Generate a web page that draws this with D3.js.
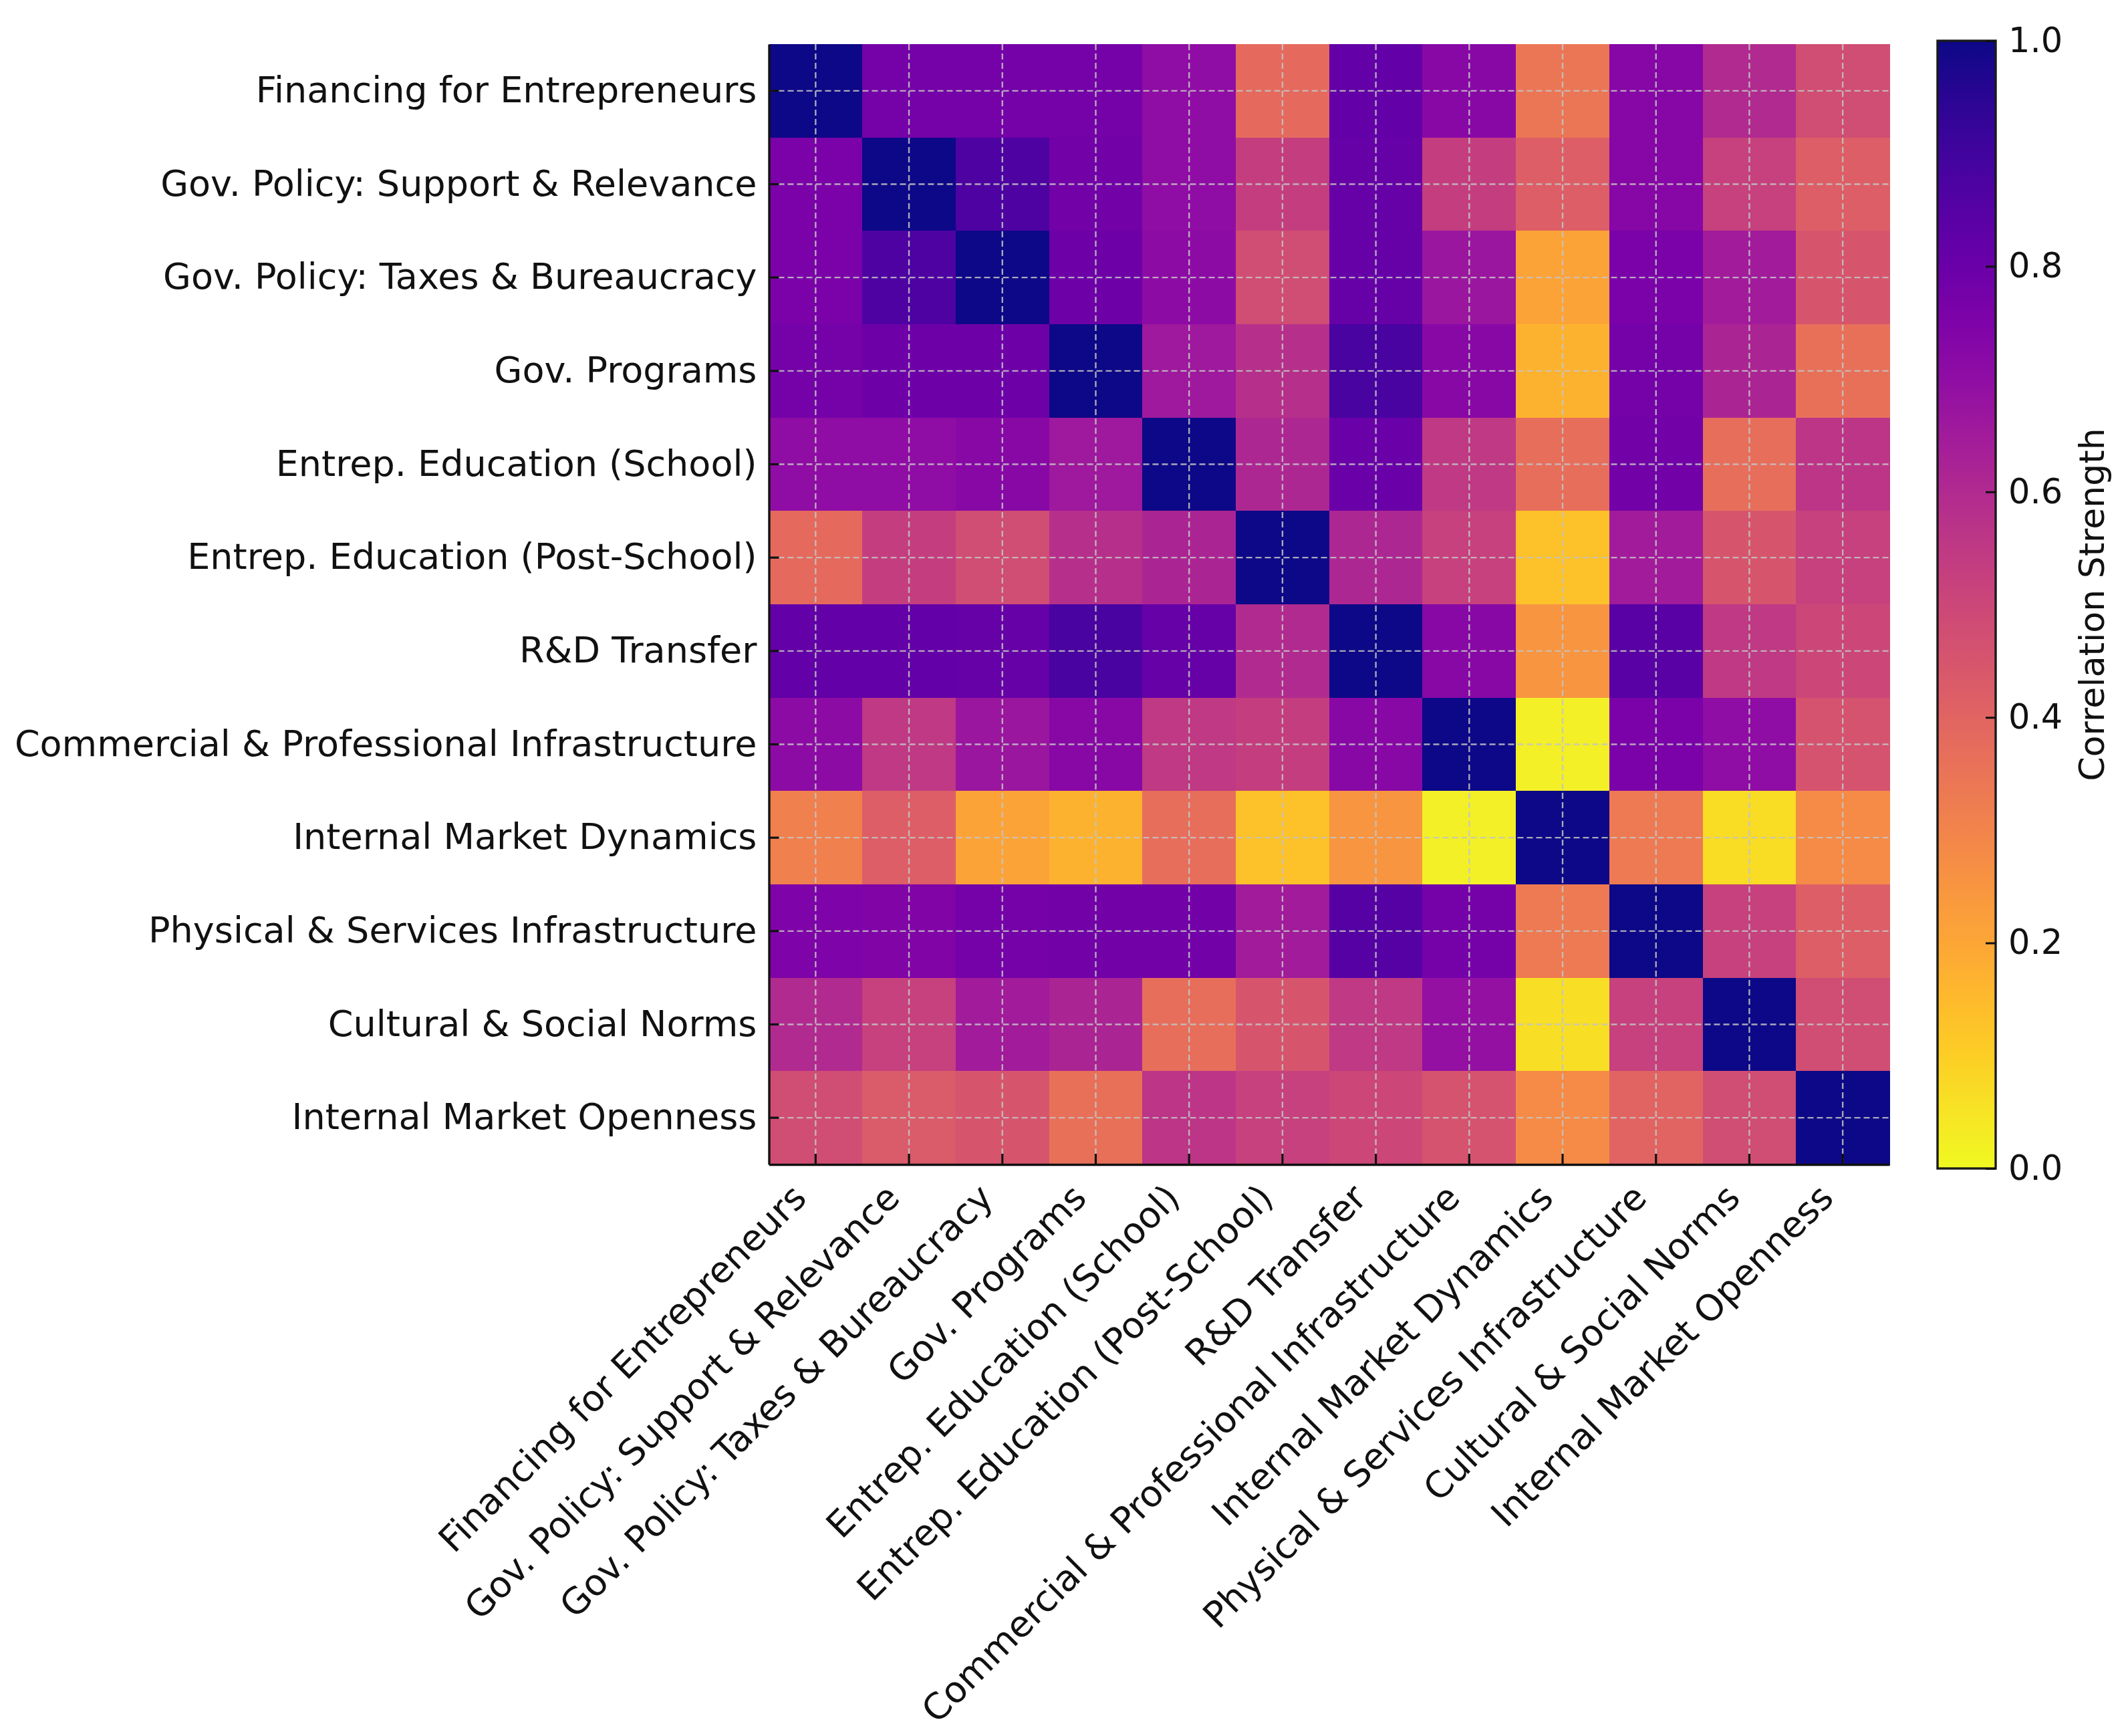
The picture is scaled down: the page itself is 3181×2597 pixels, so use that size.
<!DOCTYPE html>
<html lang="en">
<head>
    <meta charset="UTF-8">
    <script src="https://d3js.org/d3.v7.min.js"></script>
    <title>Correlation Heatmap</title>
    <style>
        body {
            margin: 0;
            background-color: #ffffff;
            font-family: "DejaVu Sans", sans-serif;
        }
    </style>
</head>
<body>
    <svg id="chart" width="3181" height="2597"></svg>

    <script>
        // Factor names (row / column order)
        const factors = [
            "Financing for Entrepreneurs",
            "Gov. Policy: Support & Relevance",
            "Gov. Policy: Taxes & Bureaucracy",
            "Gov. Programs",
            "Entrep. Education (School)",
            "Entrep. Education (Post-School)",
            "R&D Transfer",
            "Commercial & Professional Infrastructure",
            "Internal Market Dynamics",
            "Physical & Services Infrastructure",
            "Cultural & Social Norms",
            "Internal Market Openness"
        ];

        // Correlation values, one array per row
        const rowFinancing      = [1.00, 0.77, 0.77, 0.77, 0.70, 0.38, 0.82, 0.72, 0.34, 0.73, 0.60, 0.48];
        const rowPolicySupport  = [0.76, 1.00, 0.87, 0.78, 0.70, 0.53, 0.81, 0.53, 0.42, 0.73, 0.52, 0.42];
        const rowPolicyTaxes    = [0.76, 0.87, 1.00, 0.79, 0.71, 0.48, 0.81, 0.67, 0.21, 0.76, 0.65, 0.45];
        const rowGovPrograms    = [0.77, 0.79, 0.79, 1.00, 0.66, 0.58, 0.88, 0.72, 0.17, 0.77, 0.62, 0.36];
        const rowEduSchool      = [0.70, 0.70, 0.72, 0.66, 1.00, 0.61, 0.80, 0.55, 0.37, 0.78, 0.37, 0.56];
        const rowEduPostSchool  = [0.38, 0.53, 0.48, 0.58, 0.62, 1.00, 0.61, 0.52, 0.13, 0.65, 0.45, 0.52];
        const rowRnD            = [0.82, 0.82, 0.81, 0.88, 0.81, 0.60, 1.00, 0.72, 0.25, 0.84, 0.55, 0.50];
        const rowCommercial     = [0.71, 0.55, 0.67, 0.72, 0.55, 0.53, 0.72, 1.00, 0.02, 0.76, 0.70, 0.46];
        const rowMarketDynamics = [0.31, 0.42, 0.21, 0.17, 0.37, 0.13, 0.25, 0.02, 1.00, 0.33, 0.07, 0.28];
        const rowPhysical       = [0.75, 0.74, 0.77, 0.78, 0.78, 0.65, 0.85, 0.77, 0.33, 1.00, 0.52, 0.42];
        const rowCultural       = [0.60, 0.52, 0.65, 0.62, 0.37, 0.45, 0.55, 0.69, 0.06, 0.52, 1.00, 0.48];
        const rowMarketOpenness = [0.48, 0.43, 0.45, 0.36, 0.56, 0.52, 0.50, 0.46, 0.28, 0.40, 0.48, 1.00];

        const colorbarTicks = [0.0, 0.2, 0.4, 0.6, 0.8, 1.0];

        const matrix = [
            rowFinancing, rowPolicySupport, rowPolicyTaxes, rowGovPrograms,
            rowEduSchool, rowEduPostSchool, rowRnD, rowCommercial,
            rowMarketDynamics, rowPhysical, rowCultural, rowMarketOpenness
        ];

        const cells = [];
        matrix.forEach((row, i) => row.forEach((v, j) => {
            cells.push({ row: factors[i], col: factors[j], value: v });
        }));

        // layout
        const plotLeft = 1150.5, plotRight = 2827;
        const plotTop = 66, plotBottom = 1742;
        const cbLeft = 2899, cbRight = 2986, cbTop = 61, cbBottom = 1748;
        const fontSize = 54;

        const svg = d3.select("#chart");

        const x = d3.scaleBand().domain(factors).range([plotLeft, plotRight]);
        const y = d3.scaleBand().domain(factors).range([plotTop, plotBottom]);
        const color = d3.scaleSequential(t => d3.interpolatePlasma(1 - t)).domain([0, 1]);

        // cells
        svg.append("g")
            .selectAll("rect")
            .data(cells)
            .enter().append("rect")
            .attr("x", d => x(d.col))
            .attr("y", d => y(d.row))
            .attr("width", x.bandwidth() + 0.6)
            .attr("height", y.bandwidth() + 0.6)
            .attr("fill", d => color(d.value))
            .attr("shape-rendering", "crispEdges");

        // dashed grid at tick centres
        const grid = svg.append("g")
            .attr("stroke", "#c4c4c4")
            .attr("stroke-opacity", 0.85)
            .attr("stroke-width", 2.4)
            .attr("stroke-dasharray", "9,5");
        grid.selectAll(".gx")
            .data(factors)
            .enter().append("line")
            .attr("x1", d => x(d) + x.bandwidth() / 2)
            .attr("x2", d => x(d) + x.bandwidth() / 2)
            .attr("y1", plotTop)
            .attr("y2", plotBottom);
        grid.selectAll(".gy")
            .data(factors)
            .enter().append("line")
            .attr("y1", d => y(d) + y.bandwidth() / 2)
            .attr("y2", d => y(d) + y.bandwidth() / 2)
            .attr("x1", plotLeft)
            .attr("x2", plotRight);

        // y axis (ticks pointing inward)
        const yAxis = svg.append("g")
            .attr("transform", `translate(${plotLeft},0)`)
            .call(d3.axisLeft(y).tickSizeInner(-15).tickSizeOuter(0).tickPadding(18));
        yAxis.selectAll("text")
            .attr("font-family", "DejaVu Sans")
            .attr("font-size", fontSize)
            .attr("fill", "#111");
        yAxis.selectAll("line").attr("stroke-width", 3.2).attr("stroke", "#111");
        yAxis.select(".domain").attr("stroke-width", 3.4).attr("stroke", "#111");

        // x axis with 45 degree labels
        const xAxis = svg.append("g")
            .attr("transform", `translate(0,${plotBottom})`)
            .call(d3.axisBottom(x).tickSizeInner(-16).tickSizeOuter(0));
        xAxis.selectAll("text")
            .attr("font-family", "DejaVu Sans")
            .attr("font-size", fontSize)
            .attr("fill", "#111")
            .attr("text-anchor", "end")
            .attr("dy", null)
            .attr("x", -11)
            .attr("y", 53)
            .attr("transform", "rotate(-45,-11,53)");
        xAxis.selectAll("line").attr("stroke-width", 3.2).attr("stroke", "#111");
        xAxis.select(".domain").attr("stroke-width", 3.4).attr("stroke", "#111");
        xAxis.attr("font-family", null);

        // colorbar
        const defs = svg.append("defs");
        const grad = defs.append("linearGradient")
            .attr("id", "cbGrad")
            .attr("x1", 0).attr("y1", 1).attr("x2", 0).attr("y2", 0);
        d3.range(0, 1.0001, 0.05).forEach(t => {
            grad.append("stop")
                .attr("offset", t)
                .attr("stop-color", color(t));
        });

        const cbScale = d3.scaleLinear().domain([0, 1]).range([cbBottom, cbTop]);

        svg.append("rect")
            .attr("x", cbLeft)
            .attr("y", cbScale(1))
            .attr("width", cbRight - cbLeft)
            .attr("height", cbScale(0) - cbScale(1))
            .attr("fill", "url(#cbGrad)")
            .attr("stroke", "#1a1a1a")
            .attr("stroke-width", 3.4);

        const cbAxis = svg.append("g")
            .attr("transform", `translate(${cbRight},0)`)
            .call(d3.axisRight(cbScale)
                .tickValues(colorbarTicks)
                .tickFormat(d3.format(".1f"))
                .tickSizeInner(-15)
                .tickSizeOuter(0)
                .tickPadding(19));
        cbAxis.select(".domain").remove();
        cbAxis.selectAll("line").attr("stroke-width", 3).attr("stroke", "#111");
        cbAxis.selectAll("text")
            .attr("font-family", "DejaVu Sans")
            .attr("font-size", 51)
            .attr("fill", "#111");

        svg.append("text")
            .attr("transform", `translate(3130,${(cbTop + cbBottom) / 2}) rotate(-90)`)
            .attr("text-anchor", "middle")
            .attr("dominant-baseline", "central")
            .attr("font-family", "DejaVu Sans")
            .attr("font-size", 52)
            .attr("fill", "#111")
            .text("Correlation Strength");
    </script>
</body>
</html>
